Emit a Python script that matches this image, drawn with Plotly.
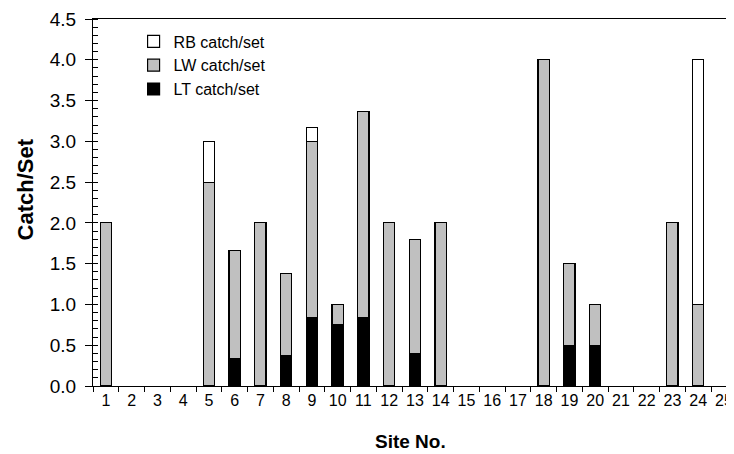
import plotly.graph_objects as go

sites = list(range(1, 26))
# catch per set by site (stacked: LT bottom, LW middle, RB top); None = no catch
lt = [None, None, None, None, None, 0.333, None, 0.375, 0.833, 0.75, 0.833, None, 0.4,
      None, None, None, None, None, 0.5, 0.5, None, None, None, None, None]
lw = [2.0, None, None, None, 2.5, 1.333, 2.0, 1.0, 2.167, 0.25, 2.53, 2.0, 1.4,
      2.0, None, None, None, 4.0, 1.0, 0.5, None, None, 2.0, 1.0, None]
rb = [None, None, None, None, 0.5, None, None, None, 0.167, None, None, None, None,
      None, None, None, None, None, None, None, None, None, None, 3.0, None]

FONT = "Liberation Sans, Arial, sans-serif"
line = dict(color="black", width=1.2)

fig = go.Figure()
fig.add_trace(go.Bar(x=sites, y=lt, name="LT catch/set", width=0.44,
                     marker=dict(color="black", line=line)))
fig.add_trace(go.Bar(x=sites, y=lw, name="LW catch/set", width=0.44,
                     marker=dict(color="#c0c0c0", line=line)))
fig.add_trace(go.Bar(x=sites, y=rb, name="RB catch/set", width=0.44,
                     marker=dict(color="white", line=line)))

fig.update_layout(
    width=726, height=446,
    margin=dict(l=85, r=1, t=8, b=68),
    barmode="stack",
    plot_bgcolor="white", paper_bgcolor="white",
    font=dict(family=FONT, size=16, color="black"),
    legend=dict(x=0.064, y=0.985, xanchor="left", yanchor="top",
                traceorder="reversed", font=dict(size=16),
                bgcolor="rgba(0,0,0,0)"),
    showlegend=True,
    annotations=[
        dict(text="<b>Catch/Set</b>", xref="paper", yref="paper",
             x=-0.106, y=0.535, xanchor="center", yanchor="middle",
             textangle=-90, showarrow=False, font=dict(size=22)),
        dict(text="<b>Site No.</b>", xref="paper", yref="paper",
             x=0.5, y=-0.151, xanchor="center", yanchor="middle",
             showarrow=False, font=dict(size=19)),
    ],
)
fig.update_xaxes(
    range=[0.5, 25.12], tickmode="array", tickvals=sites,
    ticktext=[str(s) for s in sites], ticks="", showgrid=False,
    ticklabeloverflow="allow", tickfont=dict(size=16),
    showline=True, linecolor="black", linewidth=1, mirror=True,
    zeroline=False,
    minor=dict(ticks="outside", tick0=0.5, dtick=1, ticklen=5,
               tickcolor="black", tickwidth=1, showgrid=False),
)
fig.update_yaxes(
    range=[0, 4.5], dtick=0.5, tickformat=".1f", ticks="outside",
    ticklen=7, tickcolor="black", showgrid=False, zeroline=False,
    showline=True, linecolor="black", linewidth=1,
    tickfont=dict(size=19), ticklabelstandoff=5, ticklabeloverflow="allow",
    minor=dict(ticks="inside", dtick=0.1, ticklen=5, tickcolor="black",
               tickwidth=1, showgrid=False),
)

fig.write_html("out.html")
